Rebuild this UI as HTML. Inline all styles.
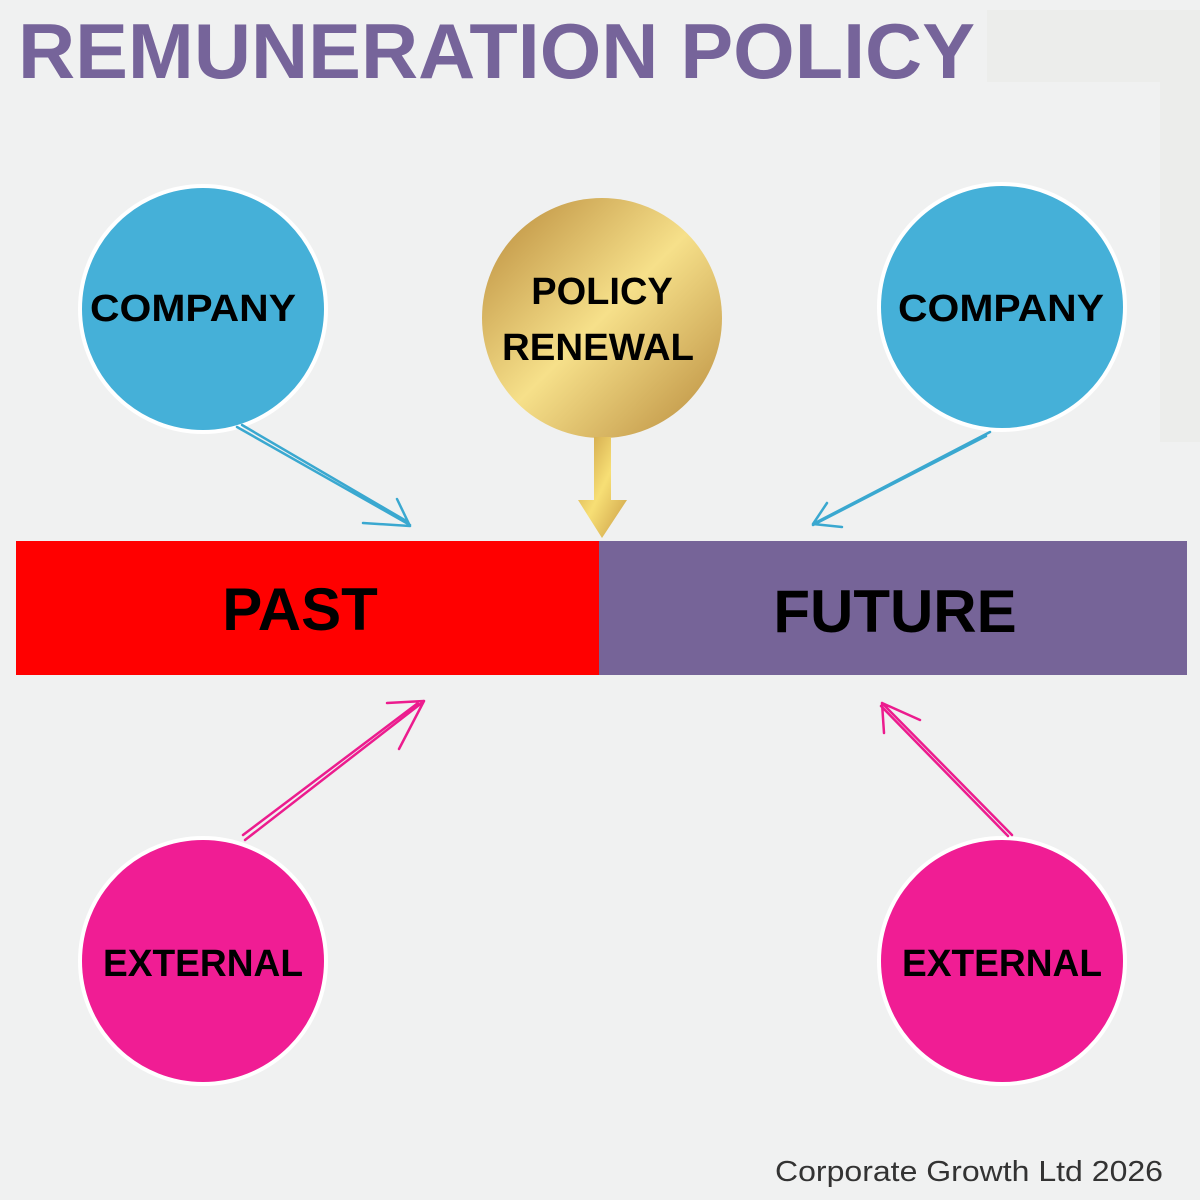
<!DOCTYPE html>
<html><head><meta charset="utf-8"><style>
html,body{margin:0;padding:0;background:#f0f1f1;}
svg{display:block;}
text{font-family:"Liberation Sans",sans-serif;}
</style></head><body>
<svg width="1200" height="1200" viewBox="0 0 1200 1200" xmlns="http://www.w3.org/2000/svg">
<defs>
<linearGradient id="g" x1="0" y1="0" x2="1" y2="1">
<stop offset="0" stop-color="#b8893a"/><stop offset="0.5" stop-color="#f6e08a"/><stop offset="1" stop-color="#b88a3c"/>
</linearGradient>
<linearGradient id="g2" x1="0" y1="0" x2="1" y2="1">
<stop offset="0" stop-color="#c89a42"/><stop offset="0.5" stop-color="#f7df75"/><stop offset="1" stop-color="#c99b44"/>
</linearGradient>
</defs>
<rect width="1200" height="1200" fill="#f0f1f1"/>
<rect x="987" y="10" width="213" height="72" fill="#ecedeb"/>
<rect x="1160" y="82" width="40" height="360" fill="#ecedeb"/>
<text x="18" y="78" font-size="78" font-weight="bold" fill="#76649a" textLength="957" lengthAdjust="spacingAndGlyphs">REMUNERATION POLICY</text>

<rect x="16" y="541" width="584" height="134" fill="#ff0000"/>
<rect x="599" y="541" width="588" height="134" fill="#766498"/>
<text x="300" y="630" font-size="60" font-weight="bold" text-anchor="middle" fill="#000">PAST</text>
<text x="895" y="632" font-size="60" font-weight="bold" text-anchor="middle" fill="#000">FUTURE</text>

<g stroke="#fff" stroke-width="4">
<circle cx="203" cy="309" r="123" fill="#45b0d8"/>
<circle cx="1002" cy="307" r="123" fill="#45b0d8"/>
<circle cx="203" cy="961" r="123" fill="#f01d94"/>
<circle cx="1002" cy="961" r="123" fill="#f01d94"/>
</g>
<circle cx="602" cy="318" r="120" fill="url(#g)"/>
<path d="M594 437 H611 V500 H627 L602 538 L578 500 H594 Z" fill="url(#g2)"/>

<g font-size="38" font-weight="bold" fill="#000" text-anchor="middle">
<text x="193" y="321" textLength="206" lengthAdjust="spacingAndGlyphs">COMPANY</text>
<text x="1001" y="321" textLength="206" lengthAdjust="spacingAndGlyphs">COMPANY</text>
<text x="203" y="976" textLength="200" lengthAdjust="spacingAndGlyphs">EXTERNAL</text>
<text x="1002" y="976" textLength="200" lengthAdjust="spacingAndGlyphs">EXTERNAL</text>
<text x="602" y="304">POLICY</text>
<text x="598" y="360" textLength="192" lengthAdjust="spacingAndGlyphs">RENEWAL</text>
</g>

<g fill="none" stroke-linecap="round" stroke-width="2.5">
<g stroke="#3aa8d0">
<path d="M237 427 L410 525 M242 425 L408 522 M410 526 L397 499 M410 526 L363 523"/>
<path d="M990 432 L815 523 M986 436 L813 525 M813 524 L842 527 M813 524 L827 503"/>
</g>
<g stroke="#ec1c8e">
<path d="M245 840 L423 702 M243 835 L418 703 M424 701 L387 703 M424 701 L399 749"/>
<path d="M1012 835 L882 703 M1008 836 L881 706 M882 703 L884 733 M882 703 L920 720"/>
</g>
</g>

<text x="1163" y="1181" font-size="29" fill="#333" text-anchor="end" textLength="388" lengthAdjust="spacingAndGlyphs">Corporate Growth Ltd 2026</text>
</svg>
</body></html>
